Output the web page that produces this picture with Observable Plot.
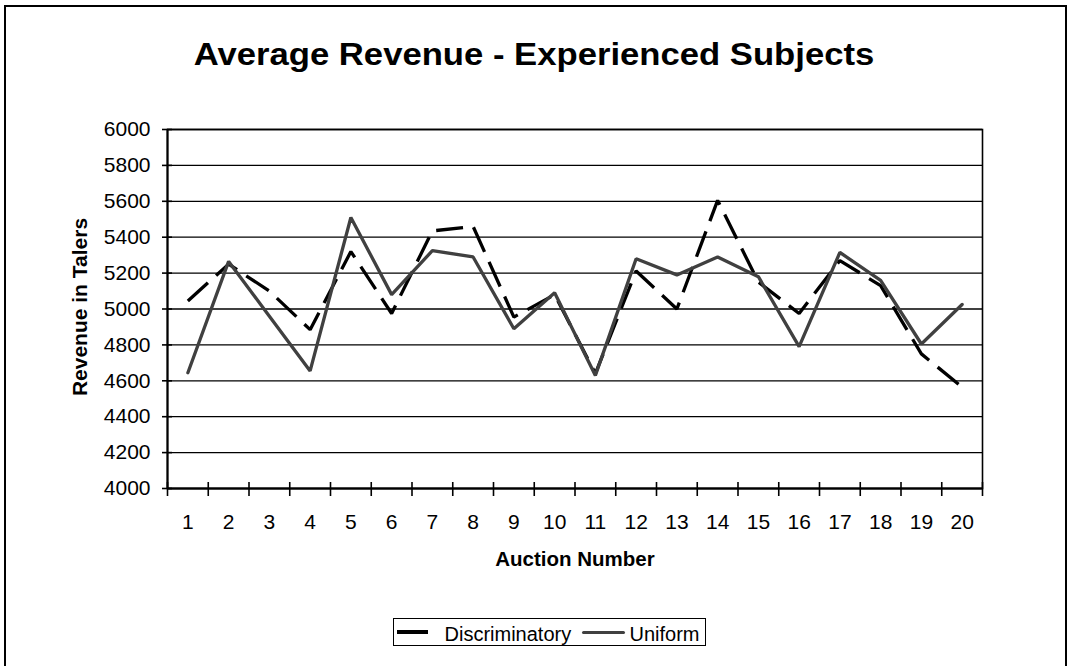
<!DOCTYPE html>
<html>
<head>
<meta charset="utf-8">
<script src="https://cdn.jsdelivr.net/npm/d3@7"></script>
<script src="https://cdn.jsdelivr.net/npm/@observablehq/plot@0.6"></script>
<style>
  html, body { margin: 0; padding: 0; background: #fff; }
  body { width: 1068px; height: 666px; position: relative; overflow: hidden; font-family: "Liberation Sans", Arial, sans-serif; }
  #border { position: absolute; left: 4px; top: 5px; width: 1059px; height: 700px; border: 2px solid #000; z-index: 5; pointer-events: none; }
  #title { position: absolute; left: 0; top: 38px; width: 1068px; text-align: center; font-size: 32px; line-height: 32px; font-weight: bold; transform: scaleX(1.083); transform-origin: 534px 0; color: #000; white-space: nowrap; }
  #chart { position: absolute; left: 0; top: 0; }
  #legend { position: absolute; left: 393px; top: 618px; width: 311px; height: 26px; border: 1.5px solid #000; background: #fff; }
  .lg-item { position: absolute; font-size: 20px; line-height: 20px; white-space: nowrap; color: #000; }
  .lg-swatch { position: absolute; }
</style>
</head>
<body>
<div id="border"></div>
<div id="title"></div>
<div id="chart"></div>
<div id="legend"></div>
<script>
const titleText = "Average Revenue - Experienced Subjects";
const xLabel = "Auction Number";
const yLabel = "Revenue in Talers";

const auctions = [1,2,3,4,5,6,7,8,9,10,11,12,13,14,15,16,17,18,19,20];
const discriminatory = [5045,5250,5100,4885,5320,4975,5435,5460,4955,5080,4640,5212,5000,5605,5150,4975,5270,5130,4750,4565];
const uniform = [4645,5265,4960,4655,5510,5080,5325,5290,4890,5090,4630,5280,5190,5290,5180,4790,5315,5160,4805,5025];
const yTicks = [4000,4200,4400,4600,4800,5000,5200,5400,5600,5800,6000];
const seriesNames = ["Discriminatory", "Uniform"];

const rowsD = auctions.map((a, i) => ({auction: a, value: discriminatory[i], series: seriesNames[0]}));
const rowsU = auctions.map((a, i) => ({auction: a, value: uniform[i], series: seriesNames[1]}));
const edges = [0.5].concat(auctions.map(a => a + 0.5));

document.getElementById("title").textContent = titleText;

const W = 1068, H = 600, mL = 167, mR = 86, mT = 129, mB = 112;
const fw = W - mL - mR, fh = H - mT - mB;
const font = '"Liberation Sans", Arial, sans-serif';

const chart = Plot.plot({
  width: W, height: H,
  marginLeft: mL, marginRight: mR, marginTop: mT, marginBottom: mB,
  style: {background: "transparent", fontFamily: font, fontSize: "21px", color: "#000", overflow: "visible"},
  x: {type: "linear", domain: [0.5, 20.5], label: null},
  y: {type: "linear", domain: [4000, 6000], label: null},
  marks: [
    Plot.ruleY(yTicks, {stroke: "#000", strokeWidth: 1.3}),
    Plot.frame({stroke: "#000", strokeWidth: 1.6}),
    Plot.line(rowsD, {x: "auction", y: "value", stroke: "#000", strokeWidth: 3.3, strokeDasharray: "27,11", strokeLinejoin: "miter", strokeLinecap: "butt"}),
    Plot.line(rowsU, {x: "auction", y: "value", stroke: "#404040", strokeWidth: 3.3, strokeLinejoin: "miter"}),
    Plot.ruleX([0.5], {stroke: "#000", strokeWidth: 2}),
    Plot.ruleY([4000], {stroke: "#000", strokeWidth: 2}),
    Plot.ruleX(edges, {stroke: "#000", strokeWidth: 1.6, insetTop: fh - 6, insetBottom: -8}),
    Plot.ruleY(yTicks, {stroke: "#000", strokeWidth: 1.6, insetLeft: -5, insetRight: fw - 5}),
    Plot.axisX(auctions, {tickSize: 0, tickPadding: 26, tickFormat: d => String(d), fontSize: 21, label: null}),
    Plot.axisY(yTicks, {tickSize: 0, tickPadding: 17, tickFormat: d => String(d), fontSize: 21, label: null}),
    Plot.text([xLabel], {frameAnchor: "bottom", dy: 71, text: d => d, fontWeight: "bold", fontSize: 20.5, lineAnchor: "middle"}),
    Plot.text([yLabel], {frameAnchor: "left", dx: -87, dy: -2, rotate: -90, text: d => d, fontWeight: "bold", fontSize: 21, lineAnchor: "middle", textAnchor: "middle"})
  ]
});
document.getElementById("chart").appendChild(chart);

// legend
const legend = document.getElementById("legend");
const lgSpec = [
  {name: seriesNames[0], color: "#000", sx: 397, sw: 31, sy: 630, sh: 4.3, round: false, tx: 445},
  {name: seriesNames[1], color: "#404040", sx: 582, sw: 43, sy: 631, sh: 3.4, round: true, tx: 630}
];
const lx = 393 + 1.5, ly = 618 + 1.5;
for (const s of lgSpec) {
  const sw = document.createElement("div");
  sw.className = "lg-swatch";
  sw.style.left = (s.sx - lx) + "px";
  sw.style.top = (s.sy - ly) + "px";
  sw.style.width = s.sw + "px";
  sw.style.height = s.sh + "px";
  sw.style.background = s.color;
  if (s.round) sw.style.borderRadius = "2px";
  legend.appendChild(sw);
  const t = document.createElement("div");
  t.className = "lg-item";
  t.style.left = (s.tx - lx) + "px";
  t.style.top = (624 - ly) + "px";
  t.textContent = s.name;
  legend.appendChild(t);
}
</script>
</body>
</html>
